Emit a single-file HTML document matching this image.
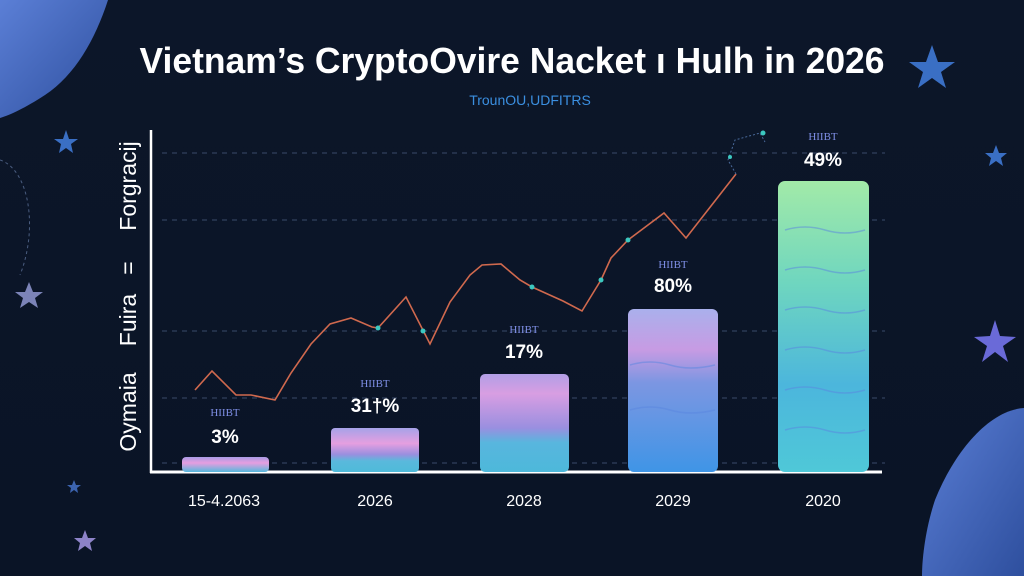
<!DOCTYPE html>
<html><head><meta charset="utf-8"><style>
html,body{margin:0;padding:0;background:#0b1628;}
svg{display:block}
</style></head><body>
<svg width="1024" height="576" viewBox="0 0 1024 576" xmlns="http://www.w3.org/2000/svg">
<defs>
<linearGradient id="bg" x1="0" y1="0" x2="0" y2="1"><stop offset="0" stop-color="#0c1629"/><stop offset="1" stop-color="#0a1426"/></linearGradient>
<linearGradient id="blob1" x1="0" y1="0" x2="1" y2="1"><stop offset="0" stop-color="#5b7fd6"/><stop offset="1" stop-color="#2e4f9e"/></linearGradient>
<linearGradient id="b1" x1="0" y1="0" x2="0" y2="1"><stop offset="0" stop-color="#a99be6"/><stop offset="0.4" stop-color="#e69ee0"/><stop offset="1" stop-color="#55b8dc"/></linearGradient>
<linearGradient id="b2" x1="0" y1="0" x2="0" y2="1"><stop offset="0" stop-color="#a6a2e8"/><stop offset="0.35" stop-color="#e59fe0"/><stop offset="0.6" stop-color="#9a8fdf"/><stop offset="0.75" stop-color="#5ab9dc"/><stop offset="1" stop-color="#4fbad9"/></linearGradient>
<linearGradient id="b3" x1="0" y1="0" x2="0" y2="1"><stop offset="0" stop-color="#b29fe6"/><stop offset="0.2" stop-color="#d89ee2"/><stop offset="0.55" stop-color="#9a8fe0"/><stop offset="0.7" stop-color="#58b6de"/><stop offset="1" stop-color="#4db8da"/></linearGradient>
<linearGradient id="b4" x1="0" y1="0" x2="0" y2="1"><stop offset="0" stop-color="#aab0ec"/><stop offset="0.25" stop-color="#c79be3"/><stop offset="0.45" stop-color="#7c96e2"/><stop offset="1" stop-color="#3f95e6"/></linearGradient>
<linearGradient id="b5" x1="0" y1="0" x2="0" y2="1"><stop offset="0" stop-color="#a2eaa8"/><stop offset="0.35" stop-color="#6fd6bf"/><stop offset="0.7" stop-color="#4cb6dc"/><stop offset="1" stop-color="#4fc8d8"/></linearGradient>
</defs>
<rect width="1024" height="576" fill="url(#bg)"/>
<path d="M0 0 H108 C95 40 75 75 45 95 C25 108 10 115 0 118 Z" fill="url(#blob1)"/>
<path d="M1024 408 C990 410 955 450 935 500 C925 530 922 560 922 576 H1024 Z" fill="url(#blob1)"/>
<path d="M0 160 C30 170 38 230 20 275 M0 310" stroke="#4a5d80" stroke-width="1" stroke-dasharray="3 3" fill="none"/>
<g fill="#3a6fc4">
<polygon points="932,45 938,62 955,62 941,72 946,88 932,78 918,88 923,72 909,62 926,62"/>
<polygon points="66,130 69,139 78,139 71,144 73,153 66,148 59,153 61,144 54,139 63,139"/>
<polygon points="996,145 999,153 1007,153 1001,158 1003,166 996,161 989,166 991,158 985,153 993,153"/>
</g>
<polygon points="29,282 33,292 43,292 35,298 38,308 29,302 20,308 23,298 15,292 25,292" fill="#7c84b8"/>
<polygon points="995,320 1000,336 1016,337 1003,346 1008,362 995,352 982,362 987,346 974,337 990,336" fill="#6a6ad8"/>
<polygon points="85,530 88,538 96,538 90,543 92,551 85,546 78,551 80,543 74,538 82,538" fill="#8d83c8"/>
<polygon points="74,480 76,485 81,485 77,488 78,493 74,490 70,493 71,488 67,485 72,485" fill="#3c64b0"/>

<text x="512" y="73" text-anchor="middle" font-family="Liberation Sans, sans-serif" font-weight="bold" font-size="36" fill="#fff" letter-spacing="0" textLength="745" lengthAdjust="spacingAndGlyphs">Vietnam’s CryptoOvire Nacket ı Hulh in 2026</text>
<text x="530" y="105" text-anchor="middle" font-family="Liberation Sans, sans-serif" font-size="14" fill="#3b8fe0">TrounOU,UDFITRS</text>

<g stroke="#3a4a6a" stroke-width="1" stroke-dasharray="5 5">
<line x1="162" y1="153" x2="885" y2="153"/><line x1="162" y1="220" x2="885" y2="220"/>
<line x1="162" y1="331" x2="885" y2="331"/><line x1="162" y1="398" x2="885" y2="398"/>
<line x1="162" y1="463" x2="885" y2="463"/>
</g>
<line x1="151" y1="130" x2="151" y2="473" stroke="#fff" stroke-width="2.5"/>
<line x1="150" y1="472" x2="882" y2="472" stroke="#fff" stroke-width="3"/>

<g font-family="Liberation Sans, sans-serif" font-size="23" fill="#fff" text-anchor="middle">
<text transform="translate(136,412) rotate(-90)">Oymaia</text>
<text transform="translate(136,320) rotate(-90)">Fuira</text>
<text transform="translate(136,268) rotate(-90)">=</text>
<text transform="translate(136,186) rotate(-90)">Forgracij</text>
</g>

<rect x="182" y="457" width="87" height="15" rx="4" fill="url(#b1)"/>
<rect x="331" y="428" width="88" height="44" rx="4" fill="url(#b2)"/>
<rect x="480" y="374" width="89" height="98" rx="5" fill="url(#b3)"/>
<rect x="628" y="309" width="90" height="163" rx="6" fill="url(#b4)"/>
<rect x="778" y="181" width="91" height="291" rx="7" fill="url(#b5)"/>
<g stroke="#5a86e0" stroke-width="1.5" fill="none" opacity="0.5">
<path d="M785 230 q20 -6 40 0 t40 0"/><path d="M785 270 q20 -6 40 0 t40 0"/><path d="M785 310 q20 -6 40 0 t40 0"/>
<path d="M785 350 q20 -6 40 0 t40 0"/><path d="M785 390 q20 -6 40 0 t40 0"/><path d="M785 430 q20 -6 40 0 t40 0"/>
<path d="M630 365 q20 -6 40 0 t45 0"/><path d="M630 410 q20 -6 40 0 t45 0"/>
</g>

<polyline fill="none" stroke="#d0694e" stroke-width="1.6" points="195,390 212,371 236,395 251,395 275,400 291,373 311,344 330,324 351,318 372,327 378,328 406,297 430,344 450,302 470,275 482,265 501,264 520,280 532,287 563,301 582,311 601,280 611,258 628,240 664,213 686,238 736,174"/>
<path d="M736 174 L728 160 L735 140 L760 133 L765 142" stroke="#4a6a9a" stroke-dasharray="2 2" fill="none"/>
<g fill="#3cc8c0"><circle cx="378" cy="328" r="2.5"/><circle cx="423" cy="331" r="2.5"/><circle cx="532" cy="287" r="2.5"/><circle cx="601" cy="280" r="2.5"/><circle cx="628" cy="240" r="2.5"/><circle cx="730" cy="157" r="2"/><circle cx="763" cy="133" r="2.5"/></g>

<g font-family="Liberation Sans, sans-serif" text-anchor="middle">
<g font-family="Liberation Serif, serif" font-size="11" fill="#7f8fe6">
<text x="225" y="416">HIIBT</text><text x="375" y="387">HIIBT</text><text x="524" y="333">HIIBT</text><text x="673" y="268">HIIBT</text><text x="823" y="140">HIIBT</text>
</g>
<g font-size="19" font-weight="bold" fill="#fff">
<text x="225" y="443">3%</text><text x="375" y="412">31†%</text><text x="524" y="358">17%</text><text x="673" y="292">80%</text><text x="823" y="166">49%</text>
</g>
<g font-size="16" fill="#fff">
<text x="224" y="506">15-4.2063</text><text x="375" y="506">2026</text><text x="524" y="506">2028</text><text x="673" y="506">2029</text><text x="823" y="506">2020</text>
</g>
</g>
</svg>
</body></html>
